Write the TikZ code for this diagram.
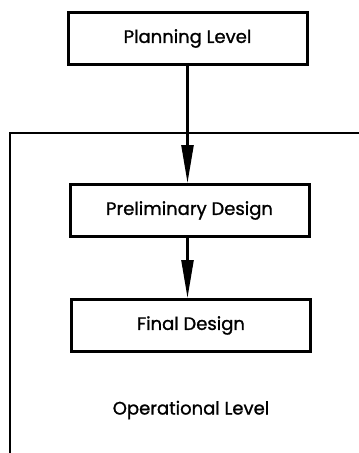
\documentclass[tikz,border=0pt]{standalone}
\usepackage{fontspec}
\setmainfont{Poppins}[FakeBold=1.2,AutoFakeBold=1.2]
\usetikzlibrary{arrows.meta}
\tikzset{
  levelbox/.style={
    draw=black,
    line width=3pt,
    minimum width=239pt,
    minimum height=52pt,
    inner sep=0pt,
    font=\fontsize{18}{20}\selectfont
  },
  levelframe/.style={
    draw=black,
    line width=2pt
  },
  flowarrow/.style={
    draw=black,
    line width=2.4pt,
    -{Triangle[length=38pt,width=12pt]}
  }
}
\begin{document}
\begin{tikzpicture}[x=1pt,y=-1pt]

  % Page size of the reference picture.
  \useasboundingbox (0,0) rectangle (359,453);

  % Operational level: open frame, only its top and left edges are visible.
  \coordinate (framebottom) at (10,453);
  \coordinate (framecorner) at (10,133);
  \coordinate (frameright) at (359,133);
  \draw[levelframe] (framebottom) -- (framecorner) -- (frameright);

  % The three design stages.
  \node[levelbox] (plan) at (187.5,38.5) {\bfseries Planning Level};
  \node[levelbox] (prelim) at (189.5,210.5) {\bfseries Preliminary Design};
  \node[levelbox] (final) at (191,325.5) {\bfseries Final Design};

  \node[font=\fontsize{18}{20}\selectfont] (oplevel) at (191,410) {\bfseries Operational Level};

  % Flow from one stage to the next.
  \draw[flowarrow] (plan.south) -- (plan.south |- prelim.north);
  \draw[flowarrow] (prelim.south -| plan.south) -- (plan.south |- final.north);

\end{tikzpicture}
\end{document}
